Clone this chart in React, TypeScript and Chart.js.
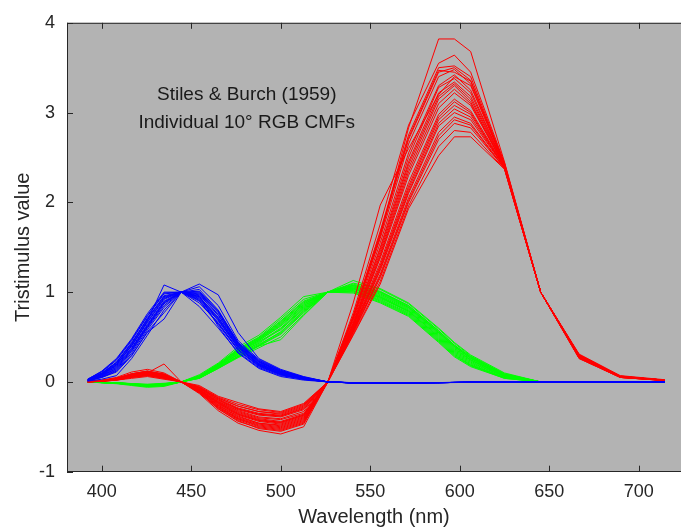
import React, { useEffect, useRef } from "react";
import { Chart, registerables } from "chart.js";

Chart.register(...registerables);

// Wavelengths (nm) of the individual observer data (500 cm^-1 steps, plus 597 nm)
const WAVELENGTHS = [
  392.2, 400.0, 408.2, 416.7, 425.5, 434.8, 444.4, 454.5, 465.1, 476.2, 487.8, 500.0, 512.8,
  526.3, 540.5, 555.6, 571.4, 588.2, 597.0, 606.1, 625.0, 645.2, 666.7, 689.7, 714.3,
];

// r-bar of individual observers
const RED_CMFS = [
  [0.005, 0.01, 0.03, 0.07, 0.09, 0.06, 0, -0.08, -0.22, -0.33, -0.40, -0.42, -0.35, 0, 0.72, 1.62, 2.83, 3.82, 3.82, 3.68, 2.45, 1, 0.30, 0.06, 0.02],
  [0.005, 0.015, 0.04, 0.08, 0.11, 0.07, 0, -0.07, -0.20, -0.30, -0.36, -0.38, -0.30, 0, 0.88, 1.97, 2.60, 3.20, 3.40, 3.30, 2.42, 1, 0.29, 0.06, 0.02],
  [0, 0.01, 0.03, 0.06, 0.10, 0.08, 0, -0.06, -0.19, -0.29, -0.35, -0.37, -0.28, 0, 0.77, 1.76, 2.86, 3.55, 3.64, 3.45, 2.44, 1, 0.31, 0.07, 0.025],
  [0.005, 0.015, 0.04, 0.09, 0.12, 0.09, 0, -0.05, -0.17, -0.25, -0.31, -0.34, -0.25, 0, 0.74, 1.68, 2.75, 3.50, 3.52, 3.40, 2.43, 1, 0.30, 0.065, 0.02],
  [0.01, 0.02, 0.05, 0.11, 0.14, 0.10, 0, -0.04, -0.16, -0.23, -0.30, -0.33, -0.24, 0, 0.70, 1.60, 2.65, 3.40, 3.48, 3.32, 2.42, 1, 0.30, 0.06, 0.02],
  [0.005, 0.01, 0.03, 0.07, 0.10, 0.20, 0, -0.09, -0.23, -0.34, -0.41, -0.44, -0.36, 0, 0.68, 1.55, 2.55, 3.30, 3.42, 3.25, 2.41, 1, 0.29, 0.06, 0.02],
  [0, 0.01, 0.025, 0.06, 0.08, 0.05, 0, -0.10, -0.26, -0.38, -0.46, -0.49, -0.41, 0, 0.65, 1.48, 2.45, 3.22, 3.34, 3.18, 2.41, 1, 0.29, 0.06, 0.02],
  [0.005, 0.012, 0.035, 0.08, 0.11, 0.07, 0, -0.08, -0.22, -0.32, -0.39, -0.41, -0.33, 0, 0.63, 1.42, 2.38, 3.15, 3.30, 3.12, 2.40, 1, 0.28, 0.06, 0.02],
  [0, 0.008, 0.02, 0.05, 0.07, 0.04, 0, -0.11, -0.28, -0.41, -0.49, -0.52, -0.44, 0, 0.61, 1.38, 2.30, 3.05, 3.22, 3.08, 2.40, 1, 0.28, 0.055, 0.018],
  [0.005, 0.01, 0.03, 0.07, 0.09, 0.06, 0, -0.09, -0.24, -0.36, -0.43, -0.46, -0.38, 0, 0.60, 1.33, 2.22, 2.98, 3.15, 3.02, 2.40, 1, 0.28, 0.06, 0.02],
  [0, 0.005, 0.02, 0.04, 0.06, 0.03, 0, -0.12, -0.30, -0.43, -0.52, -0.55, -0.47, 0, 0.58, 1.28, 2.15, 2.92, 3.08, 2.98, 2.39, 1, 0.27, 0.055, 0.018],
  [0.005, 0.015, 0.04, 0.09, 0.12, 0.08, 0, -0.07, -0.21, -0.31, -0.37, -0.39, -0.31, 0, 0.57, 1.24, 2.10, 2.85, 3.00, 2.92, 2.39, 1, 0.27, 0.055, 0.018],
  [0, 0.01, 0.025, 0.06, 0.08, 0.05, 0, -0.13, -0.32, -0.46, -0.54, -0.58, -0.50, 0, 0.56, 1.20, 2.05, 2.78, 2.95, 2.88, 2.38, 1, 0.27, 0.05, 0.017],
  [0.005, 0.01, 0.03, 0.07, 0.10, 0.07, 0, -0.10, -0.27, -0.40, -0.47, -0.50, -0.42, 0, 0.55, 1.16, 2.00, 2.70, 2.88, 2.83, 2.38, 1, 0.27, 0.05, 0.017],
  [0, 0.008, 0.02, 0.05, 0.07, 0.04, 0, -0.12, -0.29, -0.42, -0.50, -0.53, -0.45, 0, 0.53, 1.12, 1.96, 2.62, 2.80, 2.78, 2.37, 1, 0.26, 0.05, 0.015],
  [0.005, 0.012, 0.03, 0.06, 0.09, 0.06, 0, -0.06, -0.18, -0.27, -0.33, -0.36, -0.27, 0, 0.52, 1.09, 1.93, 2.52, 2.73, 2.73, 2.37, 1, 0.26, 0.05, 0.015],
  [0.005, 0.012, 0.035, 0.075, 0.10, 0.07, 0, -0.085, -0.23, -0.35, -0.42, -0.45, -0.37, 0, 0.66, 1.50, 2.50, 3.28, 3.38, 3.22, 2.41, 1, 0.29, 0.06, 0.02],
  [0, 0.01, 0.03, 0.065, 0.09, 0.055, 0, -0.095, -0.25, -0.37, -0.44, -0.47, -0.39, 0, 0.62, 1.40, 2.34, 3.10, 3.26, 3.10, 2.40, 1, 0.28, 0.06, 0.02],
  [0.005, 0.01, 0.03, 0.07, 0.095, 0.06, 0, -0.10, -0.26, -0.39, -0.46, -0.48, -0.40, 0, 0.59, 1.30, 2.18, 2.95, 3.12, 3.00, 2.39, 1, 0.28, 0.055, 0.018],
  [0.005, 0.015, 0.04, 0.085, 0.115, 0.08, 0, -0.065, -0.20, -0.30, -0.36, -0.38, -0.29, 0, 0.71, 1.64, 2.70, 3.45, 3.50, 3.36, 2.42, 1, 0.30, 0.06, 0.02],
  [0, 0.008, 0.022, 0.055, 0.075, 0.045, 0, -0.11, -0.28, -0.41, -0.48, -0.51, -0.43, 0, 0.57, 1.26, 2.12, 2.88, 3.04, 2.95, 2.39, 1, 0.27, 0.055, 0.018],
  [0.005, 0.012, 0.03, 0.07, 0.10, 0.065, 0, -0.09, -0.24, -0.36, -0.43, -0.45, -0.37, 0, 0.64, 1.45, 2.42, 3.18, 3.32, 3.15, 2.41, 1, 0.29, 0.06, 0.02],
  [0, 0.01, 0.025, 0.06, 0.085, 0.05, 0, -0.115, -0.30, -0.44, -0.51, -0.54, -0.46, 0, 0.555, 1.18, 2.02, 2.74, 2.92, 2.86, 2.38, 1, 0.27, 0.05, 0.017],
  [0.005, 0.015, 0.04, 0.09, 0.12, 0.085, 0, -0.06, -0.18, -0.27, -0.33, -0.35, -0.26, 0, 0.73, 1.66, 2.72, 3.47, 3.45, 3.35, 2.43, 1, 0.30, 0.065, 0.02],
];

// g-bar of individual observers
const GREEN_CMFS = [
  [0, -0.005, -0.01, -0.02, -0.03, -0.02, 0, 0.05, 0.17, 0.30, 0.42, 0.55, 0.80, 1, 1.05, 0.95, 0.80, 0.52, 0.36, 0.24, 0.07, 0, 0, 0, 0],
  [0, -0.008, -0.015, -0.03, -0.05, -0.04, 0, 0.04, 0.15, 0.27, 0.38, 0.50, 0.75, 1, 1.00, 0.89, 0.74, 0.45, 0.29, 0.18, 0.04, 0, 0, 0, 0],
  [0, -0.006, -0.012, -0.025, -0.04, -0.03, 0, 0.06, 0.19, 0.35, 0.48, 0.66, 0.88, 1, 1.08, 1.00, 0.84, 0.56, 0.40, 0.27, 0.08, 0, 0, 0, 0],
  [0, -0.005, -0.01, -0.02, -0.035, -0.025, 0, 0.07, 0.20, 0.37, 0.50, 0.70, 0.92, 1, 1.13, 1.03, 0.87, 0.59, 0.43, 0.29, 0.09, 0, 0, 0, 0],
  [0, -0.007, -0.014, -0.028, -0.045, -0.035, 0, 0.045, 0.16, 0.28, 0.40, 0.47, 0.74, 1, 1.02, 0.92, 0.77, 0.48, 0.32, 0.20, 0.05, 0, 0, 0, 0],
  [0, -0.01, -0.02, -0.04, -0.06, -0.05, 0, 0.05, 0.17, 0.31, 0.44, 0.60, 0.83, 1, 1.06, 0.97, 0.82, 0.54, 0.38, 0.25, 0.07, 0, 0, 0, 0],
  [0, -0.004, -0.008, -0.018, -0.025, -0.015, 0, 0.08, 0.21, 0.39, 0.52, 0.72, 0.95, 1, 1.10, 1.04, 0.88, 0.60, 0.44, 0.30, 0.10, 0, 0, 0, 0],
  [0, -0.006, -0.012, -0.026, -0.04, -0.03, 0, 0.055, 0.18, 0.33, 0.46, 0.63, 0.85, 1, 1.04, 0.93, 0.79, 0.50, 0.34, 0.22, 0.06, 0, 0, 0, 0],
  [0, -0.008, -0.016, -0.032, -0.05, -0.04, 0, 0.04, 0.15, 0.28, 0.40, 0.53, 0.77, 1, 0.99, 0.88, 0.73, 0.44, 0.28, 0.17, 0.04, 0, 0, 0, 0],
  [0, -0.005, -0.01, -0.022, -0.035, -0.02, 0, 0.065, 0.19, 0.34, 0.47, 0.64, 0.87, 1, 1.07, 0.99, 0.83, 0.55, 0.39, 0.26, 0.08, 0, 0, 0, 0],
  [0, -0.007, -0.013, -0.027, -0.042, -0.03, 0, 0.05, 0.17, 0.32, 0.45, 0.58, 0.81, 1, 1.03, 0.94, 0.78, 0.49, 0.33, 0.21, 0.06, 0, 0, 0, 0],
  [0, -0.006, -0.011, -0.024, -0.038, -0.025, 0, 0.06, 0.18, 0.36, 0.49, 0.68, 0.90, 1, 1.09, 1.01, 0.85, 0.57, 0.41, 0.28, 0.09, 0, 0, 0, 0],
  [0, -0.006, -0.012, -0.025, -0.04, -0.028, 0, 0.055, 0.18, 0.33, 0.46, 0.62, 0.84, 1, 1.045, 0.96, 0.81, 0.53, 0.37, 0.245, 0.07, 0, 0, 0, 0],
  [0, -0.007, -0.014, -0.03, -0.046, -0.036, 0, 0.045, 0.16, 0.29, 0.41, 0.56, 0.79, 1, 1.01, 0.91, 0.76, 0.47, 0.31, 0.19, 0.05, 0, 0, 0, 0],
  [0, -0.005, -0.01, -0.021, -0.033, -0.022, 0, 0.065, 0.20, 0.36, 0.49, 0.67, 0.89, 1, 1.075, 1.00, 0.85, 0.57, 0.41, 0.28, 0.085, 0, 0, 0, 0],
  [0, -0.008, -0.015, -0.031, -0.048, -0.038, 0, 0.042, 0.155, 0.285, 0.405, 0.54, 0.78, 1, 1.015, 0.90, 0.75, 0.46, 0.30, 0.185, 0.045, 0, 0, 0, 0],
  [0, -0.006, -0.011, -0.023, -0.037, -0.024, 0, 0.06, 0.185, 0.345, 0.475, 0.65, 0.86, 1, 1.06, 0.98, 0.83, 0.55, 0.395, 0.265, 0.075, 0, 0, 0, 0],
  [0, -0.007, -0.013, -0.027, -0.043, -0.032, 0, 0.05, 0.165, 0.31, 0.43, 0.59, 0.82, 1, 1.035, 0.945, 0.79, 0.51, 0.35, 0.23, 0.065, 0, 0, 0, 0],
];

// b-bar of individual observers
const BLUE_CMFS = [
  [0.02, 0.08, 0.18, 0.38, 0.64, 0.90, 1, 0.95, 0.72, 0.40, 0.20, 0.10, 0.04, 0, -0.01, -0.012, -0.01, -0.008, -0.006, -0.004, -0.002, 0, 0, 0, 0],
  [0.03, 0.12, 0.26, 0.48, 0.76, 1.00, 1, 0.88, 0.66, 0.36, 0.18, 0.08, 0.03, 0, -0.012, -0.014, -0.011, -0.008, -0.006, -0.004, -0.002, 0, 0, 0, 0],
  [0.01, 0.03, 0.07, 0.26, 0.52, 0.80, 1, 1.03, 0.80, 0.44, 0.24, 0.13, 0.05, 0, -0.008, -0.01, -0.009, -0.007, -0.005, -0.004, -0.002, 0, 0, 0, 0],
  [0.015, 0.06, 0.14, 0.34, 0.60, 0.85, 1, 0.98, 0.75, 0.42, 0.22, 0.11, 0.045, 0, -0.01, -0.012, -0.01, -0.008, -0.006, -0.004, -0.002, 0, 0, 0, 0],
  [0.025, 0.10, 0.22, 0.44, 0.70, 0.96, 1, 0.92, 0.68, 0.38, 0.19, 0.09, 0.035, 0, -0.011, -0.013, -0.01, -0.008, -0.006, -0.004, -0.002, 0, 0, 0, 0],
  [0.02, 0.09, 0.20, 0.40, 0.68, 1.08, 1, 1.09, 0.97, 0.55, 0.26, 0.14, 0.06, 0, -0.009, -0.011, -0.01, -0.008, -0.006, -0.004, -0.002, 0, 0, 0, 0],
  [0.01, 0.05, 0.12, 0.30, 0.55, 0.70, 1, 0.84, 0.60, 0.33, 0.16, 0.07, 0.03, 0, -0.012, -0.014, -0.012, -0.009, -0.007, -0.005, -0.002, 0, 0, 0, 0],
  [0.02, 0.07, 0.16, 0.36, 0.62, 0.88, 1, 1.00, 0.78, 0.43, 0.23, 0.12, 0.05, 0, -0.01, -0.012, -0.01, -0.008, -0.006, -0.004, -0.002, 0, 0, 0, 0],
  [0.03, 0.11, 0.24, 0.46, 0.73, 0.98, 1, 0.90, 0.64, 0.35, 0.17, 0.08, 0.03, 0, -0.012, -0.013, -0.011, -0.008, -0.006, -0.004, -0.002, 0, 0, 0, 0],
  [0.015, 0.05, 0.11, 0.29, 0.56, 0.77, 1, 1.06, 0.85, 0.46, 0.25, 0.13, 0.055, 0, -0.008, -0.01, -0.009, -0.007, -0.005, -0.003, -0.001, 0, 0, 0, 0],
  [0.02, 0.08, 0.19, 0.41, 0.67, 0.93, 1, 0.94, 0.70, 0.39, 0.20, 0.10, 0.04, 0, -0.01, -0.012, -0.01, -0.008, -0.006, -0.004, -0.002, 0, 0, 0, 0],
  [0.025, 0.09, 0.21, 0.42, 0.71, 0.95, 1, 0.96, 0.62, 0.32, 0.15, 0.06, 0.02, 0, -0.011, -0.012, -0.01, -0.008, -0.006, -0.004, -0.002, 0, 0, 0, 0],
  [0.02, 0.075, 0.17, 0.37, 0.63, 0.89, 1, 0.97, 0.74, 0.41, 0.21, 0.105, 0.042, 0, -0.01, -0.012, -0.01, -0.008, -0.006, -0.004, -0.002, 0, 0, 0, 0],
  [0.025, 0.095, 0.215, 0.43, 0.69, 0.94, 1, 0.93, 0.69, 0.38, 0.19, 0.09, 0.036, 0, -0.011, -0.013, -0.011, -0.008, -0.006, -0.004, -0.002, 0, 0, 0, 0],
  [0.015, 0.055, 0.13, 0.32, 0.58, 0.83, 1, 0.99, 0.77, 0.42, 0.22, 0.115, 0.048, 0, -0.009, -0.011, -0.01, -0.008, -0.006, -0.004, -0.002, 0, 0, 0, 0],
  [0.02, 0.085, 0.19, 0.40, 0.66, 0.92, 1, 0.95, 0.71, 0.40, 0.20, 0.10, 0.04, 0, -0.01, -0.012, -0.01, -0.008, -0.006, -0.004, -0.002, 0, 0, 0, 0],
  [0.03, 0.115, 0.25, 0.47, 0.74, 0.99, 1, 0.91, 0.65, 0.36, 0.18, 0.085, 0.032, 0, -0.012, -0.013, -0.011, -0.008, -0.006, -0.004, -0.002, 0, 0, 0, 0],
  [0.018, 0.065, 0.15, 0.35, 0.61, 0.87, 1, 1.01, 0.79, 0.44, 0.23, 0.12, 0.05, 0, -0.01, -0.012, -0.01, -0.008, -0.006, -0.004, -0.002, 0, 0, 0, 0],
];

const X_TICKS = [400, 450, 500, 550, 600, 650, 700];
const Y_TICKS = [-1, 0, 1, 2, 3, 4];
const NOTE_LINES = ["Stiles & Burch (1959)", "Individual 10° RGB CMFs"];
const X_LABEL = "Wavelength (nm)";
const Y_LABEL = "Tristimulus value";

const FONT = "'Liberation Sans', Arial, Helvetica, sans-serif";
const TEXT_COLOR = "#262626";
const AXIS_COLOR = "#262626";
const PLOT_BG = "#b3b3b3";

const matlabAxes = {
  id: "matlabAxes",
  beforeDraw(chart: any) {
    const { ctx, chartArea } = chart;
    const { left, top, right, bottom } = chartArea;
    ctx.save();
    ctx.fillStyle = PLOT_BG;
    ctx.fillRect(left, top, right - left, bottom - top);
    ctx.restore();
  },
  afterDatasetsDraw(chart: any) {
    const { ctx, chartArea, scales } = chart;
    const { left, top, right, bottom } = chartArea;
    const xs = scales.x;
    const ys = scales.y;
    const tl = 6;
    ctx.save();
    ctx.strokeStyle = AXIS_COLOR;
    ctx.lineWidth = 1;
    ctx.beginPath();
    // axis lines: left, bottom, top
    ctx.moveTo(left + 0.5, top);
    ctx.lineTo(left + 0.5, bottom);
    ctx.moveTo(left, Math.round(bottom) - 0.5);
    ctx.lineTo(right, Math.round(bottom) - 0.5);
    ctx.moveTo(left, top + 0.5);
    ctx.lineTo(right, top + 0.5);
    // x ticks (bottom and top, inward)
    X_TICKS.forEach((v) => {
      const px = Math.round(xs.getPixelForValue(v)) + 0.5;
      ctx.moveTo(px, bottom);
      ctx.lineTo(px, bottom - tl);
      ctx.moveTo(px, top);
      ctx.lineTo(px, top + tl);
    });
    // y ticks (left, inward)
    Y_TICKS.forEach((v) => {
      const py = Math.round(ys.getPixelForValue(v)) + 0.5;
      ctx.moveTo(left, py);
      ctx.lineTo(left + tl, py);
    });
    ctx.stroke();

    // annotation text
    ctx.fillStyle = "#1a1a1a";
    ctx.font = `19px ${FONT}`;
    ctx.textAlign = "center";
    ctx.textBaseline = "middle";
    const nx = xs.getPixelForValue(481);
    ctx.fillText(NOTE_LINES[0], nx, ys.getPixelForValue(3.2));
    ctx.fillText(NOTE_LINES[1], nx, ys.getPixelForValue(2.89));
    ctx.restore();
  },
};

export default function App() {
  const canvasRef = useRef<HTMLCanvasElement | null>(null);

  useEffect(() => {
    const canvas = canvasRef.current;
    if (!canvas) return;

    const mk = (rows: number[][], color: string, name: string) =>
      rows.map((row, i) => ({
        label: `${name} ${i + 1}`,
        data: WAVELENGTHS.map((w, j) => ({ x: w, y: row[j] })),
        borderColor: color,
        backgroundColor: color,
        borderWidth: 1,
        pointRadius: 0,
        pointHoverRadius: 0,
        fill: false,
        tension: 0,
      }));

    // dataset 0 is drawn on top in Chart.js
    const datasets = [
      ...mk(BLUE_CMFS, "#0000ff", "b"),
      ...mk(RED_CMFS, "#ff0000", "r"),
      ...mk(GREEN_CMFS, "#00ff00", "g"),
    ];

    const chart = new Chart(canvas, {
      type: "line",
      data: { datasets },
      options: {
        responsive: false,
        maintainAspectRatio: false,
        devicePixelRatio: 1,
        animation: false,
        events: [],
        layout: { padding: { top: 14, left: 0, right: 0, bottom: 0 } },
        plugins: {
          legend: { display: false },
          tooltip: { enabled: false },
        },
        scales: {
          x: {
            type: "linear",
            min: 380.6,
            max: 723.6,
            afterBuildTicks: (s: any) => {
              s.ticks = X_TICKS.map((v) => ({ value: v }));
            },
            afterFit: (s: any) => {
              s.height = 57.3;
            },
            grid: { display: false, drawTicks: false },
            border: { display: false },
            ticks: {
              color: TEXT_COLOR,
              font: { family: FONT, size: 18 },
              padding: 10,
              maxRotation: 0,
              autoSkip: false,
            },
            title: {
              display: true,
              text: X_LABEL,
              color: TEXT_COLOR,
              font: { family: FONT, size: 20 },
              padding: { top: 0, bottom: 0 },
            },
          },
          y: {
            type: "linear",
            min: -1,
            max: 4,
            afterBuildTicks: (s: any) => {
              s.ticks = Y_TICKS.map((v) => ({ value: v }));
            },
            afterFit: (s: any) => {
              s.width = 67;
            },
            grid: { display: false, drawTicks: false },
            border: { display: false },
            ticks: {
              color: TEXT_COLOR,
              font: { family: FONT, size: 18 },
              padding: 12,
              autoSkip: false,
            },
            title: {
              display: true,
              text: Y_LABEL,
              color: TEXT_COLOR,
              font: { family: FONT, size: 20 },
              padding: { top: 11, bottom: 0 },
            },
          },
        },
      },
      plugins: [matlabAxes],
    } as any);

    return () => chart.destroy();
  }, []);

  return (
    <div style={{ position: "fixed", left: 0, top: 0, width: 681, height: 529, background: "#fff" }}>
      <canvas ref={canvasRef} width={681} height={529} style={{ display: "block", width: 681, height: 529 }} />
    </div>
  );
}
